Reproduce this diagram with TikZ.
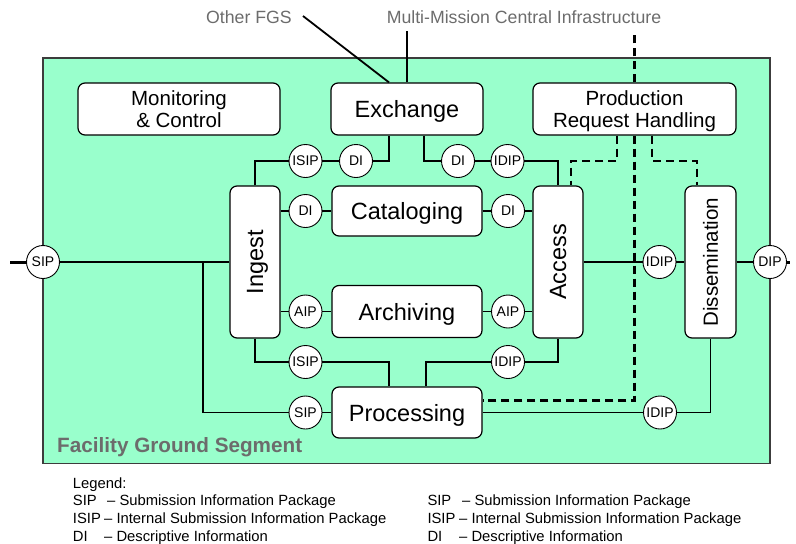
\documentclass[tikz,border=0pt]{standalone}
\usepackage{fontspec}
\usepackage{graphicx}
\setmainfont{Liberation Sans}
\usetikzlibrary{calc}
\definecolor{fgsgreen}{RGB}{153,255,204}
\definecolor{labelgray}{RGB}{108,108,108}
\definecolor{framegray}{RGB}{60,60,60}
% rotated box label whose descenders do not shift its centre
\newcommand{\uplabel}[1]{\rotatebox{90}{\raisebox{0pt}[\height][0pt]{#1}}}

\begin{document}
\begin{tikzpicture}[x=1pt,y=-1pt,
  box/.style={draw=black,line width=1.2pt,fill=white,rounded corners=7pt,
    inner sep=0pt,align=center,text depth=0pt},
  bigtxt/.style={font=\fontsize{23.5}{25}\selectfont},
  midtxt/.style={font=\fontsize{20.5}{22}\selectfont},
  pkg/.style={circle,draw=black,line width=0.9pt,fill=white,minimum size=33pt,
    inner sep=0pt,font=\fontsize{14}{14}\selectfont},
  flow/.style={line width=1.8pt},
  ctrl/.style={line width=2.2pt,dash pattern=on 8pt off 5pt},
  stub/.style={line width=3pt},
  outer/.style={text=labelgray,font=\fontsize{17.7}{18}\selectfont,inner sep=0pt},
  legtxt/.style={anchor=base west,inner sep=0pt,font=\fontsize{14.8}{15}\selectfont}
]
\useasboundingbox (0,0) rectangle (796,544);

% facility ground segment frame
\draw[framegray,line width=1.3pt,fill=fgsgreen] (43,58) rectangle (770,463.5);
\node[anchor=west,inner sep=0pt,text=labelgray,
  font=\fontsize{20.7}{21}\selectfont\bfseries] (fgs) at (57,447) {Facility Ground Segment};

% outside parties
\node[outer] (ofgs) at (249,17) {Other FGS};
\node[outer] (mmc) at (524,17) {Multi-Mission Central Infrastructure};

% functional boxes
\node[box,midtxt,minimum width=202pt,minimum height=52pt] (mc) at (179,109) {Monitoring\\\& Control};
\node[box,bigtxt,minimum width=152pt,minimum height=52pt] (exch) at (407,109) {Exchange};
\node[box,midtxt,minimum width=203pt,minimum height=52pt] (prh) at (634.5,109) {Production\\Request Handling};
\node[box,bigtxt,minimum width=50pt,minimum height=152pt] (ingest) at (255,262) {\uplabel{Ingest}};
\node[box,bigtxt,minimum width=150pt,minimum height=50pt] (catal) at (407,211) {Cataloging};
\node[box,bigtxt,minimum width=150pt,minimum height=52pt] (arch) at (407,311.5) {Archiving};
\node[box,bigtxt,minimum width=50pt,minimum height=152pt] (access) at (558,262) {\uplabel{Access}};
\node[box,midtxt,minimum width=51pt,minimum height=152pt] (dissem) at (710.5,262) {\uplabel{Dissemination}};
\node[box,bigtxt,minimum width=150pt,minimum height=51pt] (proc) at (407,412.5) {Processing};

% information packages
\node[pkg] (sipL) at (43,262) {SIP};
\node[pkg] (dipR) at (770,262) {DIP};
\node[pkg] (isipT) at (305.5,161) {ISIP};
\node[pkg] (diT) at (356,161) {DI};
\node[pkg] (diT2) at (458,161) {DI};
\node[pkg] (idipT) at (507.5,161) {IDIP};
\node[pkg] (diC1) at (305.5,211) {DI};
\node[pkg] (diC2) at (508,211) {DI};
\node[pkg] (aipA1) at (305.5,311.5) {AIP};
\node[pkg] (aipA2) at (508,311.5) {AIP};
\node[pkg] (idipM) at (659.5,262) {IDIP};
\node[pkg] (isipB) at (305.5,362) {ISIP};
\node[pkg] (idipB) at (508,362) {IDIP};
\node[pkg] (sipP) at (305.5,412.5) {SIP};
\node[pkg] (idipP) at (660,412.5) {IDIP};

% attach points
\coordinate (inL) at (10,262);
\coordinate (outR) at (790,262);
\coordinate (br) at (203,262);
\coordinate (ofE) at (303,16);
\coordinate (exL) at ($(exch.south)+(-18,0)$);
\coordinate (exR) at ($(exch.south)+(17,0)$);
\coordinate (exTL) at ($(exch.north)+(-18,0)$);
\coordinate (prL) at ($(proc.north)+(-18,0)$);
\coordinate (prR) at ($(proc.north)+(19,0)$);

% external data links
\draw[stub] (inL) -- (sipL.west);
\draw[stub] (dipR.east) -- (outR);
\draw[flow] (ofE) -- (exTL);
\draw[flow] (exch.north) -- ++(0,-51);

% ingest input
\draw[flow] (sipL.east) -- (ingest.west);
\draw[flow] (br) |- (sipP.west);
\draw[flow] (sipP.east) -- (proc.west);

% ingest <-> exchange
\draw[flow] (ingest.north) |- (isipT.west);
\draw[flow] (isipT.east) -- (diT.west);
\draw[flow] (diT.east) -| (exL);

% exchange <-> access
\draw[flow] (exR) |- (diT2.west);
\draw[flow] (diT2.east) -- (idipT.west);
\draw[flow] (idipT.east) -| (access.north);

% cataloging row
\draw[flow] (ingest.east |- diC1) -- (diC1.west);
\draw[flow] (diC1.east) -- (catal.west);
\draw[flow] (catal.east) -- (diC2.west);
\draw[flow] (diC2.east) -- (access.west |- diC2);

% archiving row
\draw[flow] (ingest.east |- aipA1) -- (aipA1.west);
\draw[flow] (aipA1.east) -- (arch.west);
\draw[flow] (arch.east) -- (aipA2.west);
\draw[flow] (aipA2.east) -- (access.west |- aipA2);

% processing links
\draw[flow] (ingest.south) |- (isipB.west);
\draw[flow] (isipB.east) -| (prL);
\draw[flow] (prR) |- (idipB.west);
\draw[flow] (idipB.east) -| (access.south);

% access -> dissemination -> out
\draw[flow] (access.east) -- (idipM.west);
\draw[flow] (idipM.east) -- (dissem.west);
\draw[flow] (dissem.east) -- (dipR.west);
\draw[flow] (proc.east) -- (idipP.west);
\draw[flow] (idipP.east) -| (dissem.south);

% production request control links
\draw[ctrl] (prh.north) -- ++(0,-51);
\draw[ctrl] ($(prh.south)+(-17.5,0)$) -- ++(0,25) -| ($(access.north)+(13,0)$);
\draw[ctrl] (prh.south) |- ($(proc.east)+(0,-12)$);
\draw[ctrl] ($(prh.south)+(17.5,0)$) -- ++(0,25) -| ($(dissem.north)+(-13.5,0)$);

% legend
\node[legtxt] (lg) at (72.7,488) {Legend:};
\node[legtxt] (lk1) at (72.7,505.3) {SIP};
\node[legtxt] (lv1) at (107,505.3) {– Submission Information Package};
\node[legtxt] (lk2) at (72.7,523) {ISIP};
\node[legtxt] (lv2) at (104,523) {– Internal Submission Information Package};
\node[legtxt] (lk3) at (72.7,541) {DI};
\node[legtxt] (lv3) at (104,541) {– Descriptive Information};
\node[legtxt] (rk1) at (427.3,505.3) {SIP};
\node[legtxt] (rv1) at (462,505.3) {– Submission Information Package};
\node[legtxt] (rk2) at (427.3,523) {ISIP};
\node[legtxt] (rv2) at (459,523) {– Internal Submission Information Package};
\node[legtxt] (rk3) at (427.3,541) {DI};
\node[legtxt] (rv3) at (459,541) {– Descriptive Information};
\end{tikzpicture}
\end{document}
